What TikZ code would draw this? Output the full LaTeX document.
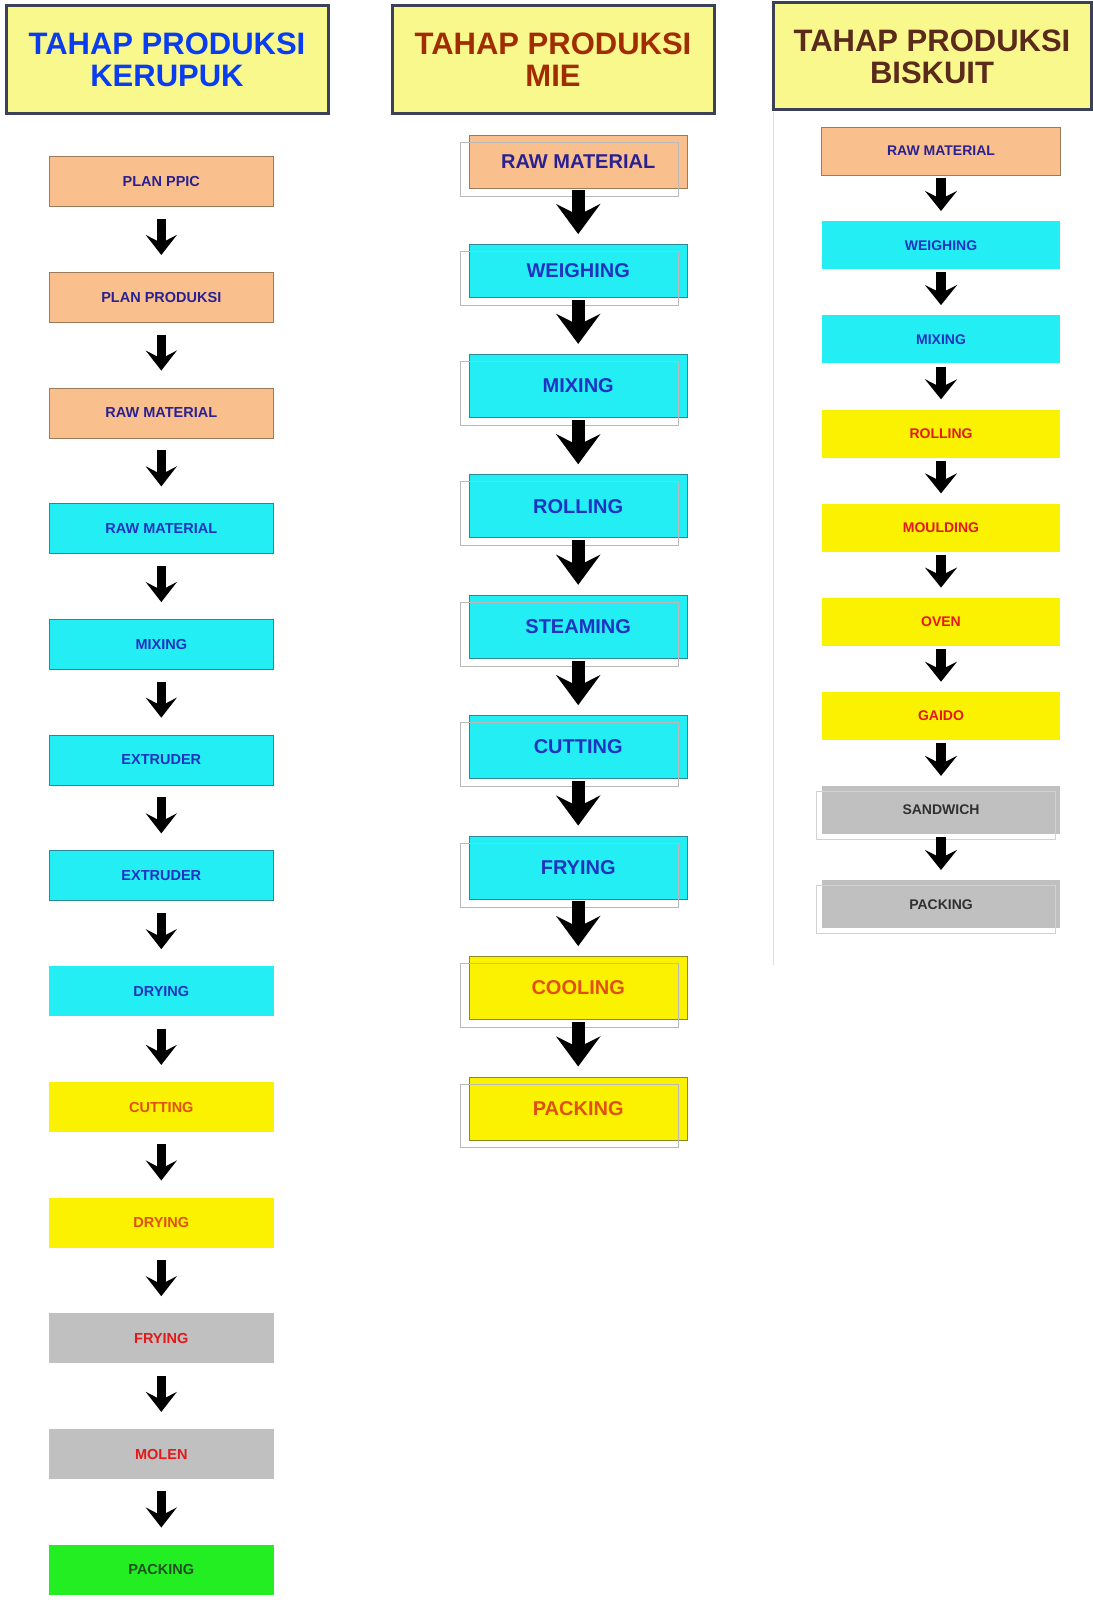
\documentclass[tikz,border=0pt]{standalone}
\usepackage{fontspec}
\setmainfont{Liberation Sans}
\usetikzlibrary{arrows.meta}
\definecolor{hdrfill}{HTML}{F8F88C}
\definecolor{hdrline}{HTML}{3C4158}
\definecolor{hblue}{HTML}{0A3CF0}
\definecolor{hmie}{HTML}{A02C00}
\definecolor{hbis}{HTML}{5A2A1A}
\definecolor{orfill}{HTML}{F9C08E}
\definecolor{orline}{HTML}{9C7A5A}
\definecolor{cyfill}{HTML}{22EEF4}
\definecolor{cyline}{HTML}{2A8A9A}
\definecolor{yefill}{HTML}{FAF200}
\definecolor{yeline}{HTML}{8A8A20}
\definecolor{grfill}{HTML}{C0C0C0}
\definecolor{gnfill}{HTML}{22EE22}
\definecolor{tnavy}{HTML}{2A2090}
\definecolor{tblue}{HTML}{1F33C0}
\definecolor{torange}{HTML}{E05010}
\definecolor{tred}{HTML}{E41818}
\definecolor{tdark}{HTML}{303030}
\definecolor{tgreen}{HTML}{205020}
\begin{document}
\begin{tikzpicture}[x=1pt,y=-1pt,
  hdr/.style={rectangle, draw=hdrline, line width=3pt, fill=hdrfill, align=center,
    font=\fontsize{31}{32}\selectfont\bfseries, inner sep=0pt},
  base/.style={rectangle, inner sep=0pt, font=\bfseries},
  kbox/.style={base, minimum width=224.5, minimum height=50, font=\fontsize{14.5}{14.5}\selectfont\bfseries},
  mbox/.style={base, minimum width=217.4, minimum height=63, font=\fontsize{20}{20}\selectfont\bfseries},
  bbox/.style={base, minimum width=238.8, minimum height=48, font=\fontsize{14}{14}\selectfont\bfseries},
  orb/.style={fill=orfill, draw=orline, line width=0.8pt, text=tnavy},
  cyb/.style={fill=cyfill, draw=cyline, line width=0.8pt, text=tblue},
  cyk/.style={fill=cyfill, draw=cyline, line width=0.6pt, text=tblue},
  cyn/.style={fill=cyfill, text=tblue},
  yek/.style={fill=yefill, text=torange},
  yem/.style={fill=yefill, draw=yeline, line width=0.8pt, text=torange},
  yeb/.style={fill=yefill, text=tred},
  grk/.style={fill=grfill, text=tred},
  grb/.style={fill=grfill, text=tdark},
  gnk/.style={fill=gnfill, text=tgreen},
  ghost/.style={draw=gray!55, line width=0.7pt},
  karrow/.style={draw=black, line width=9.5pt, shorten <=12pt, shorten >=17pt,
    -{Stealth[length=20pt, width=31pt, inset=8pt]}},
  marrow/.style={draw=black, line width=13pt, shorten <=2pt, shorten >=10pt,
    -{Stealth[length=30pt, width=44pt, inset=11pt]}},
  barrow/.style={draw=black, line width=9.5pt, shorten <=3pt, shorten >=10pt,
    -{Stealth[length=20pt, width=32pt, inset=8pt]}}
]
\useasboundingbox[fill=white] (0,0) rectangle (1092,1600);

% headers
\node[hdr, minimum width=322, minimum height=108, text=hblue] (h1) at (167,60) {TAHAP PRODUKSI\\KERUPUK};
\node[hdr, minimum width=322, minimum height=108, text=hmie] (h2) at (553,60) {TAHAP PRODUKSI\\MIE};
\node[hdr, minimum width=318, minimum height=107, text=hbis] (h3) at (932,56.5) {TAHAP PRODUKSI\\BISKUIT};

% separator line of the biskuit column
\draw[gray!25, line width=1pt] (773,112) -- (773,965);

% ---------------- KERUPUK ----------------
\node[kbox,orb] (k1)  at (161.3,181.7)  {PLAN PPIC};
\node[kbox,orb] (k2)  at (161.3,297.4)  {PLAN PRODUKSI};
\node[kbox,orb] (k3)  at (161.3,413.0)  {RAW MATERIAL};
\node[kbox,cyk] (k4)  at (161.3,528.7)  {RAW MATERIAL};
\node[kbox,cyk] (k5)  at (161.3,644.4)  {MIXING};
\node[kbox,cyk] (k6)  at (161.3,760.0)  {EXTRUDER};
\node[kbox,cyk] (k7)  at (161.3,875.7)  {EXTRUDER};
\node[kbox,cyn] (k8)  at (161.3,991.4)  {DRYING};
\node[kbox,yek] (k9)  at (161.3,1107.1) {CUTTING};
\node[kbox,yek] (k10) at (161.3,1222.7) {DRYING};
\node[kbox,grk] (k11) at (161.3,1338.4) {FRYING};
\node[kbox,grk] (k12) at (161.3,1454.1) {MOLEN};
\node[kbox,gnk] (k13) at (161.3,1569.7) {PACKING};
\foreach \i/\j in {1/2,2/3,3/4,4/5,5/6,6/7,7/8,8/9,9/10,10/11,11/12,12/13}
  \draw[karrow] (k\i) -- (k\j);

% ---------------- MIE ----------------
\node[mbox,orb,minimum height=53] (m1) at (578.2,161.5) {RAW MATERIAL};
\node[mbox,cyb,minimum height=53] (m2) at (578.2,271.0) {WEIGHING};
\node[mbox,cyb] (m3) at (578.2,385.8)  {MIXING};
\node[mbox,cyb] (m4) at (578.2,506.2)  {ROLLING};
\node[mbox,cyb] (m5) at (578.2,626.7)  {STEAMING};
\node[mbox,cyb] (m6) at (578.2,747.1)  {CUTTING};
\node[mbox,cyb] (m7) at (578.2,867.5)  {FRYING};
\node[mbox,yem] (m8) at (578.2,988.0)  {COOLING};
\node[mbox,yem] (m9) at (578.2,1108.4) {PACKING};
\foreach \i in {1,...,9}
  \draw[ghost] ([shift={(-8.5,7.5)}]m\i.north west) rectangle ([shift={(-8.5,7.5)}]m\i.south east);
\foreach \i/\j in {1/2,2/3,3/4,4/5,5/6,6/7,7/8,8/9}
  \draw[marrow] (m\i) -- (m\j);

% ---------------- BISKUIT ----------------
\node[bbox,orb] (b1) at (941,151.0) {RAW MATERIAL};
\node[bbox,cyn] (b2) at (941,245.2) {WEIGHING};
\node[bbox,cyn] (b3) at (941,339.3) {MIXING};
\node[bbox,yeb] (b4) at (941,433.5) {ROLLING};
\node[bbox,yeb] (b5) at (941,527.6) {MOULDING};
\node[bbox,yeb] (b6) at (941,621.8) {OVEN};
\node[bbox,yeb] (b7) at (941,715.9) {GAIDO};
\node[bbox,grb] (b8) at (941,810.1) {SANDWICH};
\node[bbox,grb] (b9) at (941,904.2) {PACKING};
\foreach \i in {8,9}
  \draw[ghost, draw=gray!35] ([shift={(-5,5)}]b\i.north west) rectangle ([shift={(-5,5)}]b\i.south east);
\foreach \i/\j in {1/2,2/3,3/4,4/5,5/6,6/7,7/8,8/9}
  \draw[barrow] (b\i) -- (b\j);
\end{tikzpicture}
\end{document}
